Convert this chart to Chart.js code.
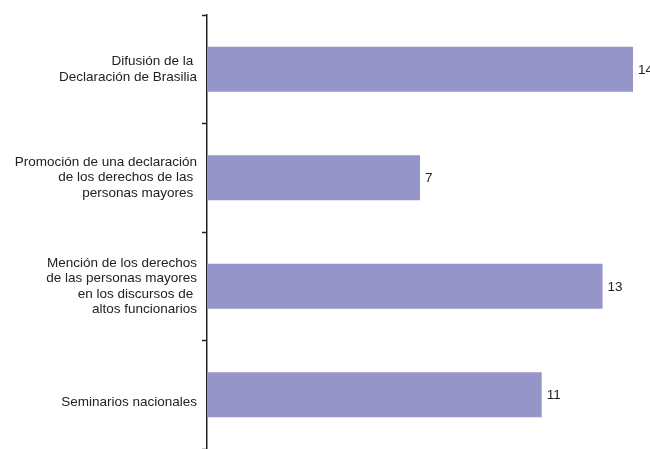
<!DOCTYPE html>
<html>
<head>
<meta charset="utf-8">
<script src="https://cdn.jsdelivr.net/npm/chart.js@4/dist/chart.umd.min.js"></script>
<style>
  html, body { margin: 0; padding: 0; background: #fff; }
  #wrap { width: 650px; height: 449px; }
</style>
</head>
<body>
<div id="wrap"><canvas id="myChart"></canvas></div>
<script>
var categories = [
  ["Difusión de la ", "Declaración de Brasilia"],
  ["Promoción de una declaración", "de los derechos de las ", "personas mayores "],
  ["Mención de los derechos", "de las personas mayores", "en los discursos de ", "altos funcionarios"],
  ["", "Seminarios nacionales"]
];
var values = [14, 7, 13, 11];

var valueLabels = {
  id: 'valueLabels',
  afterDatasetsDraw: function(chart) {
    var c = chart.ctx;
    var meta = chart.getDatasetMeta(0);
    c.save();
    c.font = '13.5px "Liberation Sans", Arial, sans-serif';
    c.fillStyle = '#222';
    c.textAlign = 'left';
    c.textBaseline = 'middle';
    meta.data.forEach(function(bar, i) {
      c.fillText(String(values[i]), bar.x + 5, bar.y + 1);
    });
    c.restore();
  }
};

Chart.defaults.font.family = '"Liberation Sans", Arial, sans-serif';
Chart.defaults.font.size = 13.5;
Chart.defaults.color = '#222';

var ctx = document.getElementById('myChart').getContext('2d');
var myChart = new Chart(ctx, {
  type: 'bar',
  data: {
    labels: categories,
    datasets: [{
      data: values,
      backgroundColor: '#9595c9',
      borderWidth: 0,
      barPercentage: 0.83,
      categoryPercentage: 0.5
    }]
  },
  options: {
    indexAxis: 'y',
    responsive: true,
    maintainAspectRatio: false,
    animation: false,
    layout: { padding: { top: 15, right: 17, bottom: 0, left: 0 } },
    plugins: {
      legend: { display: false },
      tooltip: { enabled: false }
    },
    scales: {
      x: {
        display: false,
        min: 0,
        max: 14
      },
      y: {
        afterFit: function(scale) {
          scale.width = 207;
          scale.paddingTop = 0;
          scale.paddingBottom = 0;
        },
        grid: {
          offset: true,
          drawOnChartArea: false,
          drawTicks: true,
          tickLength: 5,
          tickColor: '#222',
          tickWidth: 1.5
        },
        border: { display: true, color: '#222', width: 1.5 },
        ticks: {
          padding: 5,
          color: '#222',
          font: { size: 13.5, lineHeight: 1.13 }
        }
      }
    }
  },
  plugins: [valueLabels]
});
</script>
</body>
</html>
